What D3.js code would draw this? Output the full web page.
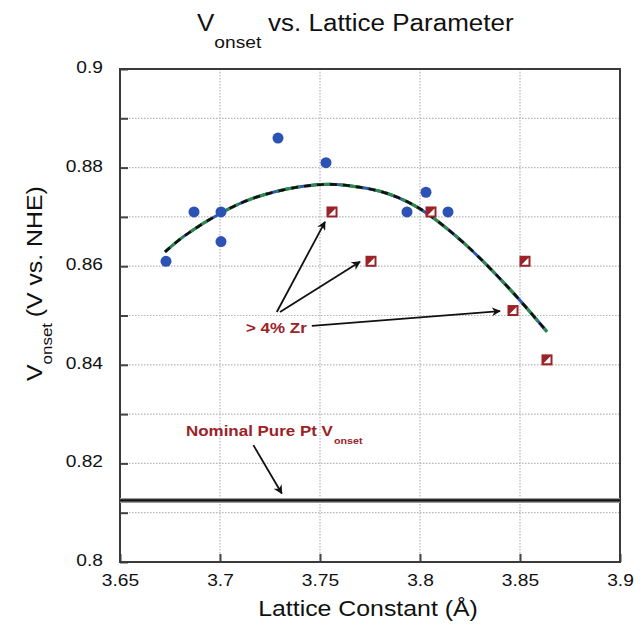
<!DOCTYPE html>
<html>
<head>
<meta charset="utf-8">
<script src="https://cdn.jsdelivr.net/npm/d3@7"></script>
<style>
  body { margin: 0; background: #fff; }
  text { font-family: "Liberation Sans", Arial, Helvetica, sans-serif; }
</style>
</head>
<body>
<div id="chart-area"></div>
<script>
// DATA
// =====

// measured points (blue circles)
var lattice = [3.673, 3.687, 3.7005, 3.7005, 3.729, 3.753, 3.7935, 3.803, 3.814];
var vOnset  = [0.861, 0.871, 0.871, 0.865, 0.886, 0.881, 0.871, 0.875, 0.871];

// samples with > 4% Zr (red squares)
var zrLattice = [3.756, 3.7755, 3.8055, 3.8465, 3.8525, 3.8635];
var zrOnset   = [0.871, 0.861, 0.871, 0.851, 0.861, 0.841];

// fitted trend
var fitX = [3.6725, 3.6817, 3.7005, 3.7167, 3.7383, 3.755, 3.770, 3.7833, 3.795, 3.805, 3.8233, 3.845, 3.8635];
var fitY = [0.8629, 0.8660, 0.8708, 0.8738, 0.8760, 0.8766, 0.8760, 0.8748, 0.8728, 0.8703, 0.8642, 0.8553, 0.8467];

var nominalPt = 0.8125;

var xTicks = [3.65, 3.7, 3.75, 3.8, 3.85, 3.9];
var yTicks = [0.8, 0.82, 0.84, 0.86, 0.88, 0.9];
var yGrid  = [0.81, 0.82, 0.83, 0.84, 0.85, 0.86, 0.87, 0.88, 0.89];


// CANVAS + MARGINS
// =================

var margin = { left: 120, right: 23, top: 69, bottom: 67 };
var width = 643 - margin.left - margin.right,
    height = 629 - margin.top - margin.bottom;

var svg = d3.select('#chart-area')
    .append('svg')
        .attr('width', 643)
        .attr('height', 629);

var g = svg.append('g')
    .attr('transform', 'translate(' + margin.left + ',' + margin.top + ')');

var x = d3.scaleLinear().domain([3.65, 3.9]).range([0, width]);
var y = d3.scaleLinear().domain([0.8, 0.9]).range([height, 0]);

var darkRed = '#9b2226';
var stretch = 1.13;   // the source lettering is a bit wide

// text helper, stretched horizontally
function wideText(parent, px, py, extra) {
    return parent.append('text')
        .attr('transform', 'translate(' + px + ',' + py + ')' + (extra || '') + ' scale(' + stretch + ',1)');
}


// GRID
// =====

g.selectAll('.ygrid')
    .data(yGrid)
    .enter().append('line')
        .attr('x1', 0).attr('x2', width)
        .attr('y1', d => y(d)).attr('y2', d => y(d))
        .attr('stroke', '#b5b5b5')
        .attr('stroke-width', 1.2)
        .attr('stroke-dasharray', '1.5,1.5');

g.selectAll('.xgrid')
    .data(xTicks.slice(1, -1))
    .enter().append('line')
        .attr('x1', d => x(d)).attr('x2', d => x(d))
        .attr('y1', 0).attr('y2', height)
        .attr('stroke', '#b5b5b5')
        .attr('stroke-width', 1.2)
        .attr('stroke-dasharray', '1.5,1.5');


// AXES
// =====

var isLabel = d => yTicks.some(t => Math.abs(t - d) < 1e-9);

var yAxisCall = d3.axisLeft(y)
    .tickValues(yGrid.concat([0.8, 0.9]))
    .tickSize(-8)
    .tickFormat(d => isLabel(d) ? d3.format('')(+d.toFixed(2)) : '');
var yAxis = g.append('g').call(yAxisCall);
yAxis.select('.domain').remove();
yAxis.selectAll('line').attr('stroke', '#444').attr('stroke-width', 2);
yAxis.selectAll('text')
    .attr('x', -15)
    .attr('dy', '0.2em')
    .attr('transform', 'scale(' + stretch + ',1)')
    .attr('font-size', '17px')
    .attr('fill', '#111');

var xAxisCall = d3.axisBottom(x)
    .tickValues(xTicks)
    .tickSize(-8)
    .tickFormat(d => d3.format('')(+d.toFixed(2)));
var xAxis = g.append('g')
    .attr('transform', 'translate(0,' + height + ')')
    .call(xAxisCall);
xAxis.select('.domain').remove();
xAxis.selectAll('line').attr('stroke', '#444').attr('stroke-width', 2);
xAxis.selectAll('text')
    .attr('y', 12)
    .attr('transform', 'scale(' + stretch + ',1)')
    .attr('font-size', '17px')
    .attr('fill', '#111');

// frame
g.append('rect')
    .attr('width', width)
    .attr('height', height)
    .attr('fill', 'none')
    .attr('stroke', '#3a3a3a')
    .attr('stroke-width', 2);


// NOMINAL PT LINE
// ================

g.append('line')
    .attr('x1', 0).attr('x2', width)
    .attr('y1', y(nominalPt)).attr('y2', y(nominalPt))
    .attr('stroke', '#999')
    .attr('stroke-width', 5);
g.append('line')
    .attr('x1', 0).attr('x2', width)
    .attr('y1', y(nominalPt)).attr('y2', y(nominalPt))
    .attr('stroke', '#111')
    .attr('stroke-width', 2.2);


// FIT CURVE
// ==========

var fitData = fitX.map((d, i) => [d, fitY[i]]);
var line = d3.line()
    .x(d => x(d[0]))
    .y(d => y(d[1]))
    .curve(d3.curveCatmullRom);

g.append('path')
    .attr('d', line(fitData))
    .attr('fill', 'none')
    .attr('stroke', '#2f56b0')
    .attr('stroke-width', 3);
g.append('path')
    .attr('d', line(fitData))
    .attr('fill', 'none')
    .attr('stroke', '#2e8b45')
    .attr('stroke-width', 3)
    .attr('stroke-dasharray', '24,8');
g.append('path')
    .attr('d', line(fitData))
    .attr('fill', 'none')
    .attr('stroke', '#111')
    .attr('stroke-width', 2.6)
    .attr('stroke-dasharray', '7,6');


// POINTS
// =======

g.selectAll('.pt')
    .data(lattice.map((d, i) => [d, vOnset[i]]))
    .enter().append('circle')
        .attr('cx', d => x(d[0]))
        .attr('cy', d => y(d[1]))
        .attr('r', 5.5)
        .attr('fill', '#2c52b5');

var zr = g.selectAll('.zr')
    .data(zrLattice.map((d, i) => [d, zrOnset[i]]))
    .enter().append('g')
        .attr('transform', d => 'translate(' + x(d[0]) + ',' + y(d[1]) + ')');
zr.append('rect')
    .attr('x', -5.5).attr('y', -5.5)
    .attr('width', 11).attr('height', 11)
    .attr('fill', darkRed);
zr.append('path')
    .attr('d', 'M-3.5,3.5L3.5,-3.5L3.5,3.5Z')
    .attr('fill', '#fff');


// ANNOTATIONS
// ============

svg.append('defs').append('marker')
    .attr('id', 'arrow')
    .attr('viewBox', '0 0 10 10')
    .attr('refX', 9).attr('refY', 5)
    .attr('markerWidth', 5).attr('markerHeight', 5)
    .attr('orient', 'auto')
    .append('path')
        .attr('d', 'M0,0L10,5L0,10L3,5Z')
        .attr('fill', '#111');

// arrows, start and tip in data units
var arrowFrom = [[3.7284, 0.8507], [3.7300, 0.8507], [3.7459, 0.8479], [3.7167, 0.8237]];
var arrowTo   = [[3.7525, 0.8690], [3.7700, 0.8609], [3.8400, 0.8509], [3.7309, 0.8139]];
arrowFrom.forEach((a, i) => {
    g.append('line')
        .attr('x1', x(a[0])).attr('y1', y(a[1]))
        .attr('x2', x(arrowTo[i][0])).attr('y2', y(arrowTo[i][1]))
        .attr('stroke', '#111')
        .attr('stroke-width', 1.8)
        .attr('marker-end', 'url(#arrow)');
});

wideText(svg, 246, 333)
    .attr('font-size', '15px')
    .attr('font-weight', 'bold')
    .attr('fill', darkRed)
    .text('> 4% Zr');

var nom = wideText(svg, 186, 436)
    .attr('font-size', '15px')
    .attr('font-weight', 'bold')
    .attr('fill', darkRed);
nom.append('tspan').text('Nominal Pure Pt V');
nom.append('tspan')
    .attr('dy', 8)
    .attr('dx', 1)
    .attr('font-size', '9.5px')
    .text('onset');


// LABELS
// =======

var title = wideText(svg, 197, 31)
    .attr('font-size', '23px')
    .attr('fill', '#111');
title.append('tspan').text('V');
title.append('tspan')
    .attr('dy', 17)
    .attr('font-size', '17px')
    .text('onset');
title.append('tspan')
    .attr('dy', -17)
    .attr('dx', 6)
    .text('vs. Lattice Parameter');

wideText(svg, 368, 616)
    .attr('font-size', '22px')
    .attr('text-anchor', 'middle')
    .attr('fill', '#111')
    .text('Lattice Constant (\u00C5)');

var yl = wideText(svg, 42, 381, ' rotate(-90)')
    .attr('font-size', '22px')
    .attr('fill', '#111');
yl.append('tspan').text('V');
yl.append('tspan')
    .attr('dy', 10)
    .attr('font-size', '15px')
    .text('onset');
yl.append('tspan')
    .attr('dy', -10)
    .attr('dx', 5)
    .text('(V vs. NHE)');
</script>
</body>
</html>
